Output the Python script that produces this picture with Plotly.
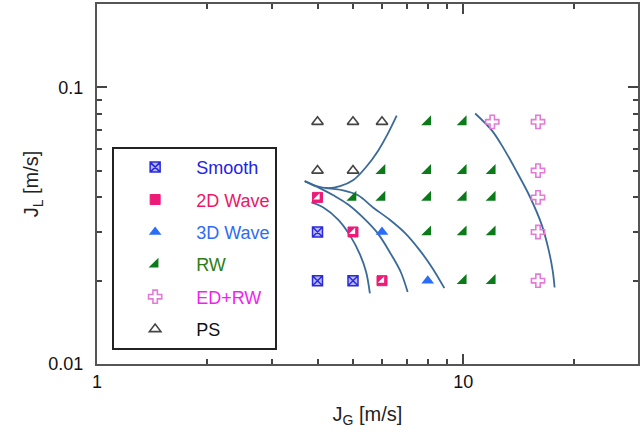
import plotly.graph_objects as go

# Flow-regime observations: gas superficial velocity J_G and liquid J_L [m/s]
smooth_jg = [4, 4, 5]
smooth_jl = [0.03, 0.02, 0.02]

wave2d_jg = [4, 5, 6]
wave2d_jl = [0.04, 0.03, 0.02]

wave3d_jg = [6, 8]
wave3d_jl = [0.03, 0.02]

rw_jg = [8, 10, 6, 8, 10, 12, 5, 6, 8, 10, 12, 8, 10, 12, 10, 12]
rw_jl = [0.075, 0.075, 0.05, 0.05, 0.05, 0.05, 0.04, 0.04, 0.04, 0.04, 0.04,
         0.03, 0.03, 0.03, 0.02, 0.02]

edrw_jg = [12, 16, 16, 16, 16, 16]
edrw_jl = [0.075, 0.075, 0.05, 0.04, 0.03, 0.02]

ps_jg = [4, 5, 6, 4, 5]
ps_jl = [0.075, 0.075, 0.075, 0.05, 0.05]

# Hand-drawn regime boundaries
bnd_ps_jg = [3.69, 3.97, 4.28, 4.61, 5.00, 5.43, 5.85, 6.22, 6.58]
bnd_ps_jl = [0.0458, 0.0439, 0.0432, 0.0439, 0.0461, 0.0515, 0.0589, 0.0679, 0.0790]

bnd_mid_jg = [3.69, 4.02, 4.42, 4.85, 5.33, 5.85, 6.34, 6.75, 7.05]
bnd_mid_jl = [0.0458, 0.0435, 0.0407, 0.0377, 0.0338, 0.0296, 0.0250, 0.0215, 0.0182]

bnd_rw_jg = [4.20, 4.70, 5.16, 5.67, 6.30, 6.96, 7.60, 8.24, 8.88]
bnd_rw_jl = [0.0432, 0.0424, 0.0407, 0.0368, 0.0332, 0.0296, 0.0258, 0.0222, 0.0188]

bnd_left_jg = [3.85, 4.15, 4.56, 4.91, 5.23, 5.43, 5.56]
bnd_left_jl = [0.0384, 0.0368, 0.0332, 0.0291, 0.0248, 0.0215, 0.0180]

bnd_ed_jg = [10.78, 11.98, 12.91, 14.01, 15.19, 16.37, 17.11, 17.54, 17.76]
bnd_ed_jl = [0.0804, 0.0697, 0.0599, 0.0494, 0.0403, 0.0319, 0.0258, 0.0218, 0.0189]

x_major = [1, 10]
x_minor = [2, 3, 4, 5, 6, 7, 8, 9, 20]
y_major = [0.01, 0.1]
y_minor = [0.02, 0.03, 0.04, 0.05, 0.06, 0.07, 0.08, 0.09]

LINE_C = "#3a6a98"
FONT = "Liberation Sans, Arial, sans-serif"

fig = go.Figure()

for bx, by in [(bnd_ps_jg, bnd_ps_jl), (bnd_mid_jg, bnd_mid_jl), (bnd_rw_jg, bnd_rw_jl),
               (bnd_left_jg, bnd_left_jl), (bnd_ed_jg, bnd_ed_jl)]:
    fig.add_trace(go.Scatter(x=bx, y=by, mode="lines", line=dict(color=LINE_C, width=1.8, shape="spline"),
                             showlegend=False, hoverinfo="skip", legendgroup="lines"))


def label(txt, col):
    return f"<span style='color:{col}'>{txt}</span>"


fig.add_trace(go.Scatter(x=smooth_jg, y=smooth_jl, mode="markers", name=label("Smooth", "#2323e6"),
                         legendgroup="a",
                         marker=dict(symbol="square-x", size=10, color="#b8b8ff",
                                     line=dict(color="#2a2ad8", width=1.5))))
fig.add_trace(go.Scatter(x=wave2d_jg, y=wave2d_jl, mode="markers", name=label("2D Wave", "#ee1668"),
                         legendgroup="b",
                         marker=dict(symbol="square", size=10, color="#ee1a78",
                                     line=dict(color="#ee1a78", width=1))))
fig.add_trace(go.Scatter(x=wave2d_jg, y=wave2d_jl, mode="markers", showlegend=False, legendgroup="b",
                         hoverinfo="skip",
                         marker=dict(symbol="triangle-se", size=7, color="white", line=dict(width=0))))
fig.add_trace(go.Scatter(x=wave3d_jg, y=wave3d_jl, mode="markers", name=label("3D Wave", "#2f6cf5"),
                         legendgroup="c",
                         marker=dict(symbol="triangle-up", size=11, color="#2a6ef8", line=dict(width=0))))
fig.add_trace(go.Scatter(x=rw_jg, y=rw_jl, mode="markers", name=label("RW", "#2e7d12"),
                         legendgroup="d",
                         marker=dict(symbol="triangle-se", size=11, color="#0b7a18", line=dict(width=0))))
fig.add_trace(go.Scatter(x=edrw_jg, y=edrw_jl, mode="markers", name=label("ED+RW", "#f21ef2"),
                         legendgroup="e",
                         marker=dict(symbol="cross-open", size=11, color="#e47ad8",
                                     line=dict(color="#e47ad8", width=1.6))))
fig.add_trace(go.Scatter(x=ps_jg, y=ps_jl, mode="markers", name=label("PS", "#111111"),
                         legendgroup="f",
                         marker=dict(symbol="triangle-up-open", size=10, color="#444444",
                                     line=dict(color="#444444", width=1.6))))

axis_common = dict(type="log", showline=True, linecolor="#555555", linewidth=2, mirror="ticks",
                   ticks="inside", ticklen=10, tickwidth=1.5, tickcolor="#444444",
                   showgrid=False, zeroline=False,
                   tickfont=dict(family=FONT, size=18, color="#111111"))

fig.update_xaxes(**axis_common, range=[0, 1.4771], tickvals=x_major, ticktext=["1", "10"],
                 minor=dict(tickvals=x_minor, ticks="inside", ticklen=5, tickwidth=1.5, tickcolor="#444444"),
                 title=dict(text="J<sub>G</sub> [m/s]", font=dict(family=FONT, size=20, color="#222222"),
                            standoff=16))
fig.update_yaxes(**axis_common, range=[-2, -0.699], tickvals=y_major, ticktext=["0.01", "0.1"],
                 minor=dict(tickvals=y_minor, ticks="inside", ticklen=5, tickwidth=1.5, tickcolor="#444444"),
                 ticklabelstandoff=8,
                 title=dict(text="J<sub>L</sub> [m/s]", font=dict(family=FONT, size=20, color="#222222"),
                            standoff=4))

fig.update_layout(
    width=641, height=434,
    margin=dict(l=97, r=1, t=4, b=70),
    paper_bgcolor="white", plot_bgcolor="white",
    font=dict(family=FONT, size=18),
    legend=dict(x=0.028, y=0.603, xanchor="left", yanchor="top",
                bgcolor="white", bordercolor="#222222", borderwidth=2,
                font=dict(family=FONT, size=18), tracegroupgap=6, itemwidth=72,
                traceorder="grouped"),
)

fig.write_html("out.html")
